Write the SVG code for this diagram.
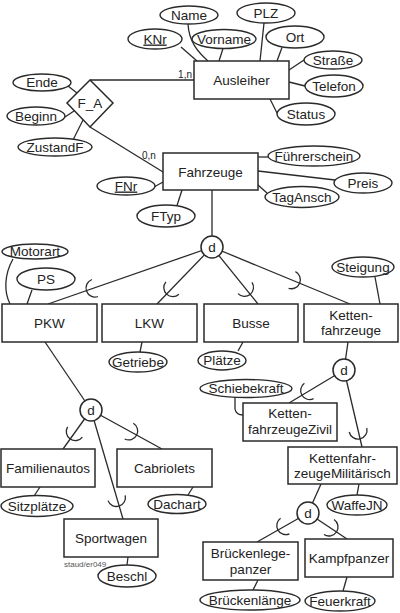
<svg xmlns="http://www.w3.org/2000/svg" width="400" height="613" viewBox="0 0 400 613">
<style>
.box{fill:#fff;stroke:#2a2a2a;stroke-width:1.5}
.attr{fill:#fff;stroke:#2a2a2a;stroke-width:1.4}
.ln{fill:none;stroke:#2a2a2a;stroke-width:1.3}
.arc{fill:none;stroke:#2a2a2a;stroke-width:1.3}
.t{font-family:"Liberation Sans",Arial,sans-serif;font-size:13.5px;fill:#222;text-anchor:middle}
.s{font-family:"Liberation Sans",Arial,sans-serif;font-size:10px;fill:#222}
.u{text-decoration:underline}
</style>
<rect width="400" height="613" fill="#fff"/>
<g id="connectors">
<!-- Ausleiher attributes -->
<line class="ln" x1="181" y1="47" x2="197" y2="61"/>
<path class="ln" d="M188,24 C189,42 198,52 208,61"/>
<line class="ln" x1="223" y1="48.5" x2="219" y2="61"/>
<line class="ln" x1="264" y1="23" x2="260" y2="61"/>
<line class="ln" x1="282" y1="47.5" x2="277" y2="61"/>
<line class="ln" x1="289" y1="70" x2="304" y2="60"/>
<line class="ln" x1="289" y1="82" x2="305" y2="86"/>
<line class="ln" x1="270" y1="99" x2="277" y2="113"/>
<!-- F_A -->
<line class="ln" x1="90" y1="80" x2="194" y2="80"/>
<line class="ln" x1="90" y1="127" x2="163" y2="172"/>
<line class="ln" x1="68" y1="86" x2="77" y2="93"/>
<line class="ln" x1="65" y1="117" x2="74" y2="111"/>
<line class="ln" x1="73" y1="140" x2="83" y2="120"/>
<!-- Fahrzeuge attributes -->
<line class="ln" x1="258" y1="157" x2="268" y2="157"/>
<line class="ln" x1="258" y1="171" x2="335" y2="180"/>
<line class="ln" x1="258" y1="185" x2="267" y2="193"/>
<line class="ln" x1="154" y1="187" x2="163" y2="182"/>
<line class="ln" x1="177" y1="205.5" x2="182" y2="190"/>
<line class="ln" x1="212" y1="190" x2="212" y2="247"/>
<!-- d1 -->
<line class="ln" x1="212" y1="247" x2="48" y2="304"/>
<line class="ln" x1="212" y1="247" x2="157" y2="304"/>
<line class="ln" x1="212" y1="247" x2="258" y2="304"/>
<line class="ln" x1="212" y1="247" x2="350" y2="304"/>
<path class="arc" d="M92,279.5 A9,9 0 0 0 98,296.5"/>
<path class="arc" d="M165.9,281.8 A9,9 0 0 0 178.9,294.2"/>
<path class="arc" d="M238,293.6 A9,9 0 0 0 252,282.4"/>
<path class="arc" d="M288.6,288.3 A9,9 0 0 0 295.4,271.7"/>
<!-- row1 attributes -->
<path class="ln" d="M13,259 C4,275 4,292 10,304"/>
<line class="ln" x1="32" y1="290" x2="27" y2="304"/>
<line class="ln" x1="142" y1="342" x2="140" y2="352"/>
<line class="ln" x1="243" y1="342" x2="238" y2="351"/>
<line class="ln" x1="375" y1="277" x2="380" y2="304"/>
<!-- d2 -->
<line class="ln" x1="348" y1="342" x2="344" y2="370"/>
<line class="ln" x1="344" y1="370" x2="289" y2="403"/>
<line class="ln" x1="344" y1="370" x2="362" y2="447"/>
<path class="arc" d="M304.4,383.3 A9,9 0 0 0 313.6,398.7"/>
<path class="arc" d="M349.2,432 A9,9 0 0 0 366.8,428"/>
<path class="ln" d="M235,397 L235,409 Q236,415 243,415"/>
<line class="ln" x1="359" y1="484" x2="357" y2="495"/>
<!-- d3 -->
<line class="ln" x1="321" y1="484" x2="308" y2="513"/>
<line class="ln" x1="308" y1="513" x2="257" y2="542"/>
<line class="ln" x1="308" y1="513" x2="347" y2="539"/>
<path class="arc" d="M280.6,518.3 A9,9 0 0 0 289.4,533.9"/>
<path class="arc" d="M324,534.5 A9,9 0 0 0 334,519.5"/>
<line class="ln" x1="258" y1="580" x2="253" y2="590"/>
<line class="ln" x1="347" y1="577" x2="343" y2="591"/>
<!-- d4 -->
<line class="ln" x1="45" y1="342" x2="91" y2="410"/>
<line class="ln" x1="91" y1="410" x2="63" y2="449"/>
<line class="ln" x1="91" y1="410" x2="162" y2="449"/>
<line class="ln" x1="91" y1="410" x2="123" y2="519"/>
<path class="arc" d="M67.6,426.9 A9,9 0 0 0 82.4,437.1"/>
<path class="arc" d="M124.7,439 A9,9 0 0 0 133.3,423.2"/>
<path class="arc" d="M108,500.6 A9,9 0 0 0 125.2,495.4"/>
<line class="ln" x1="40" y1="487" x2="34" y2="496"/>
<line class="ln" x1="193" y1="487" x2="188" y2="495"/>
<line class="ln" x1="128" y1="557" x2="127" y2="565"/>
</g>
<text class="s" x="192" y="77.5" text-anchor="end">1,n</text>
<text class="s" x="142" y="158.5">0,n</text>

<g id="Ausleiher"><rect class="box" x="194" y="61" width="95" height="38"/><text class="t" x="241.5" y="85">Ausleiher</text></g>
<g id="Fahrzeuge"><rect class="box" x="163" y="153" width="95" height="37"/><text class="t" x="210.5" y="176.5">Fahrzeuge</text></g>
<g id="F_A"><polygon class="box" points="90,80 113,103 90,127 67,103"/><text class="t" x="90" y="108">F_A</text></g>

<g id="a_Name"><ellipse class="attr" cx="189" cy="15" rx="29" ry="9"/><text class="t" x="189" y="19.5">Name</text></g>
<g id="a_KNr"><ellipse class="attr" cx="155" cy="39" rx="27" ry="10"/><text class="t u" x="155" y="43.5">KNr</text></g>
<g id="a_Vorname"><ellipse class="attr" cx="224" cy="39" rx="32" ry="9.5"/><text class="t" x="224" y="43.5">Vorname</text></g>
<g id="a_PLZ"><ellipse class="attr" cx="266" cy="13" rx="29" ry="10"/><text class="t" x="266" y="17.5">PLZ</text></g>
<g id="a_Ort"><ellipse class="attr" cx="295" cy="37" rx="29" ry="11"/><text class="t" x="295" y="41.5">Ort</text></g>
<g id="a_Strasse"><ellipse class="attr" cx="333" cy="60" rx="29" ry="9"/><text class="t" x="333" y="64.5">Straße</text></g>
<g id="a_Telefon"><ellipse class="attr" cx="334" cy="86" rx="29" ry="11"/><text class="t" x="334" y="90.5">Telefon</text></g>
<g id="a_Status"><ellipse class="attr" cx="306" cy="114" rx="29" ry="11"/><text class="t" x="306" y="118.5">Status</text></g>
<g id="a_Ende"><ellipse class="attr" cx="42" cy="82.5" rx="29" ry="8.5"/><text class="t" x="42" y="87">Ende</text></g>
<g id="a_Beginn"><ellipse class="attr" cx="36" cy="116" rx="29" ry="9"/><text class="t" x="36" y="120.5">Beginn</text></g>
<g id="a_ZustandF"><ellipse class="attr" cx="55" cy="147" rx="37" ry="9"/><text class="t" x="55" y="151.5">ZustandF</text></g>
<g id="a_Fuehrerschein"><ellipse class="attr" cx="314" cy="156" rx="46" ry="10"/><text class="t" x="314" y="160.5">Führerschein</text></g>
<g id="a_Preis"><ellipse class="attr" cx="363" cy="183" rx="29" ry="10"/><text class="t" x="363" y="187.5">Preis</text></g>
<g id="a_TagAnsch"><ellipse class="attr" cx="302" cy="197" rx="37" ry="10.5"/><text class="t" x="302" y="201.5">TagAnsch</text></g>
<g id="a_FNr"><ellipse class="attr" cx="126" cy="186" rx="29" ry="9"/><text class="t u" x="126" y="190.5">FNr</text></g>
<g id="a_FTyp"><ellipse class="attr" cx="166" cy="216" rx="29" ry="11"/><text class="t" x="166" y="220.5">FTyp</text></g>

<g id="d1"><circle class="box" cx="212" cy="247" r="11"/><text class="t" x="212" y="251.5">d</text></g>

<g id="PKW"><rect class="box" x="2" y="304" width="95" height="38"/><text class="t" x="49.5" y="327.5">PKW</text></g>
<g id="LKW"><rect class="box" x="102" y="304" width="95" height="38"/><text class="t" x="149.5" y="327.5">LKW</text></g>
<g id="Busse"><rect class="box" x="204" y="304" width="94" height="38"/><text class="t" x="251" y="327.5">Busse</text></g>
<g id="Kettenfahrzeuge"><rect class="box" x="304" y="304" width="94" height="38"/><text class="t" x="351" y="320">Ketten-</text><text class="t" x="351" y="335">fahrzeuge</text></g>

<g id="a_Motorart"><ellipse class="attr" cx="35" cy="251.5" rx="33" ry="7.5"/><text class="t" x="35" y="256">Motorart</text></g>
<g id="a_PS"><ellipse class="attr" cx="46" cy="279" rx="29" ry="11"/><text class="t" x="46" y="283.5">PS</text></g>
<g id="a_Getriebe"><ellipse class="attr" cx="138" cy="362" rx="29" ry="10"/><text class="t" x="138" y="366.5">Getriebe</text></g>
<g id="a_Plaetze"><ellipse class="attr" cx="222" cy="360.5" rx="24" ry="9.5"/><text class="t" x="222" y="365">Plätze</text></g>
<g id="a_Steigung"><ellipse class="attr" cx="363" cy="267" rx="31" ry="10"/><text class="t" x="363" y="271.5">Steigung</text></g>

<g id="d2"><circle class="box" cx="344" cy="370" r="11"/><text class="t" x="344" y="374.5">d</text></g>
<g id="KettenfahrzeugeZivil"><rect class="box" x="243" y="403" width="94" height="38"/><text class="t" x="290" y="418">Ketten-</text><text class="t" x="290" y="434">fahrzeugeZivil</text></g>
<g id="a_Schiebekraft"><ellipse class="attr" cx="246" cy="388.5" rx="46" ry="9"/><text class="t" x="246" y="393">Schiebekraft</text></g>
<g id="KettenfahrzeugeMilitaerisch"><rect class="box" x="288" y="447" width="109" height="37"/><text class="t" x="342.5" y="462.5">Kettenfahr-</text><text class="t" x="342.5" y="478">zeugeMilitärisch</text></g>
<g id="a_WaffeJN"><ellipse class="attr" cx="357" cy="505" rx="30" ry="10"/><text class="t" x="357" y="509.5">WaffeJN</text></g>

<g id="d3"><circle class="box" cx="308" cy="513" r="11"/><text class="t" x="308" y="517.5">d</text></g>
<g id="Brueckenlegepanzer"><rect class="box" x="203" y="542" width="95" height="38"/><text class="t" x="250.5" y="558">Brückenlege-</text><text class="t" x="250.5" y="574">panzer</text></g>
<g id="Kampfpanzer"><rect class="box" x="305" y="539" width="88" height="38"/><text class="t" x="349" y="562.5">Kampfpanzer</text></g>
<g id="a_Brueckenlaenge"><ellipse class="attr" cx="250" cy="600" rx="50" ry="10"/><text class="t" x="250" y="604.5">Brückenlänge</text></g>
<g id="a_Feuerkraft"><ellipse class="attr" cx="340" cy="601" rx="35" ry="10"/><text class="t" x="340" y="605.5">Feuerkraft</text></g>

<g id="d4"><circle class="box" cx="91" cy="410" r="11"/><text class="t" x="91" y="414.5">d</text></g>
<g id="Familienautos"><rect class="box" x="1" y="449" width="94" height="38"/><text class="t" x="48" y="472.5">Familienautos</text></g>
<g id="Cabriolets"><rect class="box" x="117" y="449" width="95" height="38"/><text class="t" x="164.5" y="472.5">Cabriolets</text></g>
<g id="Sportwagen"><rect class="box" x="64" y="519" width="94" height="38"/><text class="t" x="111" y="542.5">Sportwagen</text></g>
<g id="a_Sitzplaetze"><ellipse class="attr" cx="37" cy="506" rx="36" ry="10.5"/><text class="t" x="37" y="510.5">Sitzplätze</text></g>
<g id="a_Dachart"><ellipse class="attr" cx="177" cy="504" rx="29" ry="9.5"/><text class="t" x="177" y="508.5">Dachart</text></g>
<g id="a_Beschl"><ellipse class="attr" cx="127" cy="576" rx="29" ry="11"/><text class="t" x="127" y="580.5">Beschl</text></g>
<text x="64" y="566.5" font-family="Liberation Sans, Arial, sans-serif" font-size="8" fill="#555">staud/er049</text>
</svg>
